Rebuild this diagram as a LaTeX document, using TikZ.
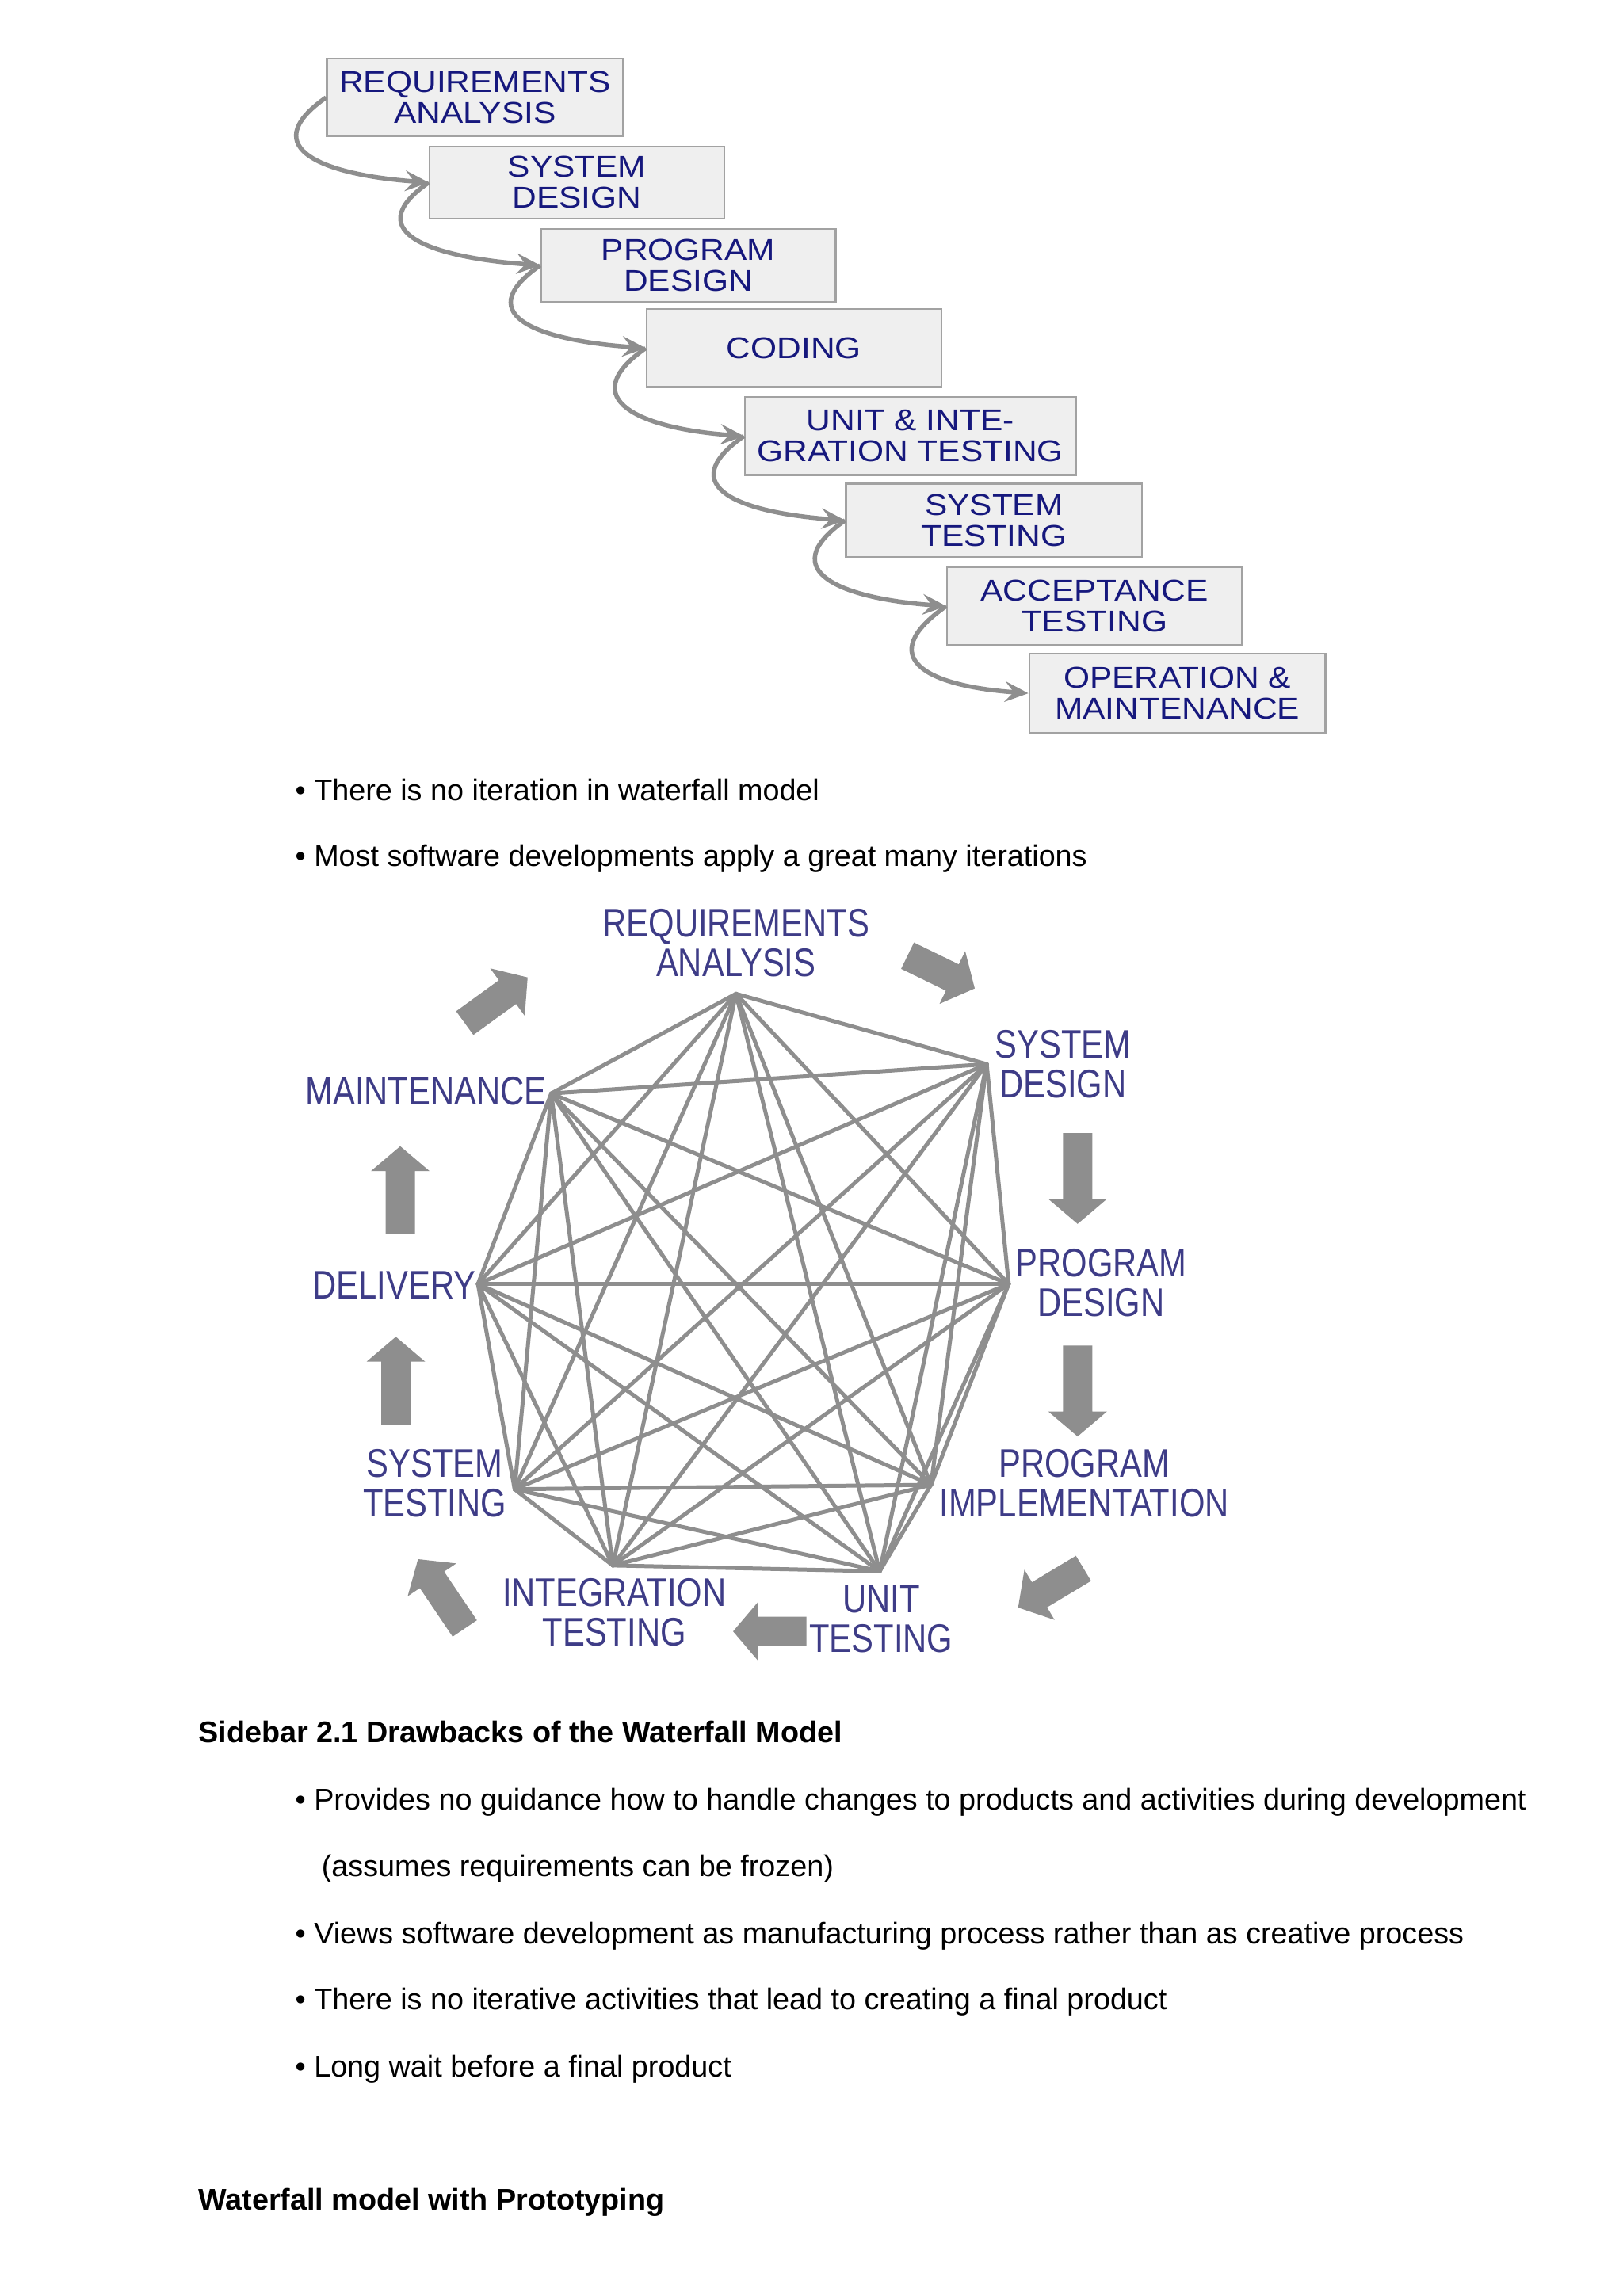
\documentclass[tikz,border=0pt]{standalone}
\usepackage{fontspec}
\setmainfont{Liberation Sans}
\newfontfamily\kfont[FakeStretch=0.83]{Liberation Sans}
\newfontfamily\wfont[FakeStretch=1.12]{Liberation Sans}
\usetikzlibrary{arrows.meta,calc}
\definecolor{boxtext}{RGB}{22,24,125}
\definecolor{ktext}{RGB}{62,60,135}
\definecolor{edgegray}{RGB}{142,142,142}
\definecolor{boxfill}{RGB}{239,239,239}
\definecolor{boxline}{RGB}{162,162,162}
\definecolor{arrowgray}{RGB}{142,142,142}
\newcommand{\blockarr}[4]{%
  \begin{scope}[shift={(#1,#2)}, rotate=#3]
    \fill[arrowgray] (0,-10) -- ({#4-17},-10) -- ({#4-17},-20) -- (#4,0) -- ({#4-17},20) -- ({#4-17},10) -- (0,10) -- cycle;
  \end{scope}}
\begin{document}
\begin{tikzpicture}[x=0.5pt,y=-0.5pt,
  wbox/.style={draw=boxline, line width=0.6pt, fill=boxfill, inner sep=0pt, align=center,
     font=\wfont\fontsize{10.25pt}{10.5pt}\selectfont, text=boxtext},
  flow/.style={draw=edgegray, line width=1.5pt, -{Stealth[length=8pt,width=7pt,inset=3pt]}},
  klabel/.style={inner sep=0pt, align=center, anchor=base, text=ktext,
     font=\kfont\fontsize{13.6pt}{13.5pt}\selectfont},
  kedge/.style={draw=edgegray, line width=1.35pt, line cap=round},
  body/.style={inner sep=0pt, anchor=base west, font=\fontsize{10.2pt}{12pt}\selectfont},
  head/.style={inner sep=0pt, anchor=base west, font=\bfseries\fontsize{10.2pt}{12pt}\selectfont}]
\fill[white] (0,0) rectangle (1107,1566.45);
\useasboundingbox (0,0) rectangle (1107,1566.45);

% ---------- waterfall ----------
\node[wbox, minimum width=101pt, minimum height=26.5pt] (b1) at (324,66.5) {REQUIREMENTS\\ANALYSIS};
\node[wbox, minimum width=100.5pt, minimum height=24.5pt] (b2) at (393.5,124.5) {SYSTEM\\DESIGN};
\node[wbox, minimum width=100.5pt, minimum height=25pt] (b3) at (469.5,181) {PROGRAM\\DESIGN};
\node[wbox, minimum width=100.5pt, minimum height=26.5pt] (b4) at (541.5,237.5) {CODING};
\node[wbox, minimum width=113pt, minimum height=26.5pt] (b5) at (621,297.5) {UNIT \& INTE-\\GRATION TESTING};
\node[wbox, minimum width=101pt, minimum height=25pt] (b6) at (678,355) {SYSTEM\\TESTING};
\node[wbox, minimum width=100.5pt, minimum height=26.5pt] (b7) at (746.5,413.5) {ACCEPTANCE\\TESTING};
\node[wbox, minimum width=101pt, minimum height=27pt] (b8) at (803,473) {OPERATION \&\\MAINTENANCE};
\foreach \i/\j in {1/2,2/3,3/4,4/5,5/6,6/7,7/8}
  \draw[flow] (b\i.west) .. controls +(-50,35) and +(-70,-5) .. (b\j.west);

% ---------- bullets ----------
\node[body] (t1) at (201,546) {\textbullet\ There is no iteration in waterfall model};
\node[body] (t2) at (201,591) {\textbullet\ Most software developments apply a great many iterations};

% ---------- complete graph ----------
\coordinate (v1) at (502,678);
\coordinate (v2) at (673,726);
\coordinate (v3) at (688,876);
\coordinate (v4) at (635,1013);
\coordinate (v5) at (600,1072);
\coordinate (v6) at (418,1068);
\coordinate (v7) at (351,1016);
\coordinate (v8) at (326,876);
\coordinate (v9) at (376,746);
\foreach \i in {1,...,8}{
  \pgfmathtruncatemacro\nxt{\i+1}
  \foreach \j in {\nxt,...,9}
    \draw[kedge] (v\i) -- (v\j);
}
\node[klabel] (lR) at (502,666) {REQUIREMENTS\\ANALYSIS};
\node[klabel] (lSD) at (725,749) {SYSTEM\\DESIGN};
\node[klabel] (lPD) at (751,898) {PROGRAM\\DESIGN};
\node[klabel] (lPI) at (739.5,1035) {PROGRAM\\IMPLEMENTATION};
\node[klabel] (lUT) at (601,1127) {UNIT\\TESTING};
\node[klabel] (lIT) at (419,1123) {INTEGRATION\\TESTING};
\node[klabel] (lST) at (296.5,1035) {SYSTEM\\TESTING};
\node[klabel] (lDEL) at (269,886) {DELIVERY};
\node[klabel] (lMAIN) at (290.5,754) {MAINTENANCE};

\blockarr{317}{698}{36}{53}
\blockarr{619}{652}{-26}{51}
\blockarr{735}{773}{-90}{62}
\blockarr{735}{918}{-90}{62}
\blockarr{739}{1070}{211}{52}
\blockarr{550}{1113}{180}{50}
\blockarr{317}{1111}{124}{57}
\blockarr{270}{972}{90}{60}
\blockarr{273}{842}{90}{60}

% ---------- sidebar ----------
\node[head] (h1) at (135,1189) {Sidebar 2.1 Drawbacks of the Waterfall Model};
\node[body] (s1) at (201,1235) {\textbullet\ Provides no guidance how to handle changes to products and activities during development};
\node[body] (s2) at (219,1280) {(assumes requirements can be frozen)};
\node[body] (s3) at (201,1326) {\textbullet\ Views software development as manufacturing process rather than as creative process};
\node[body] (s4) at (201,1371) {\textbullet\ There is no iterative activities that lead to creating a final product};
\node[body] (s5) at (201,1417) {\textbullet\ Long wait before a final product};
\node[head] (h2) at (135,1508) {Waterfall model with Prototyping};
\end{tikzpicture}
\end{document}
